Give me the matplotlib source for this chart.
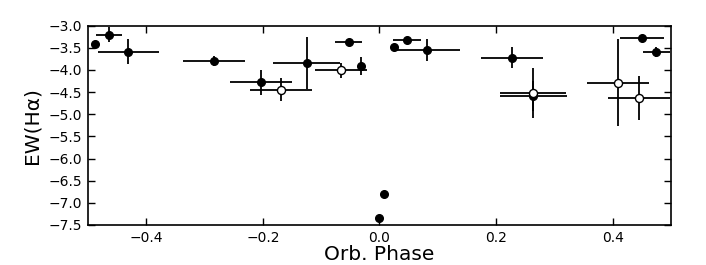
import matplotlib

matplotlib.use("Agg", force=True)
import matplotlib.pyplot as plt
import numpy as np

# filled symbols
phase_f = [-0.488, -0.4635, -0.4305, -0.2834, -0.2038, -0.1249, -0.0528, -0.0312,
           0.0257, 0.0472, 0.0815, 0.2268, 0.2640, 0.4508, 0.4748, 0.0, 0.0077]
ew_f = [-3.41, -3.20, -3.59, -3.80, -4.28, -3.85, -3.36, -3.91,
        -3.49, -3.33, -3.54, -3.72, -4.59, -3.28, -3.59, -7.34, -6.80]
xerr_f = [0.0, 0.0225, 0.052, 0.053, 0.053, 0.058, 0.023, 0.0,
          0.0, 0.0235, 0.057, 0.053, 0.057, 0.038, 0.023, 0.0, 0.0]
yerr_f = [0.0, 0.17, 0.28, 0.11, 0.29, 0.59, 0.0, 0.21,
          0.0, 0.0, 0.25, 0.24, 0.34, 0.07, 0.12, 0.0, 0.0]

# open symbols
phase_o = [-0.169, -0.0657, 0.2633, 0.4086, 0.4446]
ew_o = [-4.45, -4.01, -4.52, -4.29, -4.63]
xerr_o = [0.053, 0.045, 0.057, 0.0535, 0.053]
yerr_o = [0.26, 0.17, 0.56, 0.98, 0.49]

x_ticks = [-0.4, -0.2, 0.0, 0.2, 0.4]
y_ticks = [-3.0, -3.5, -4.0, -4.5, -5.0, -5.5, -6.0, -6.5, -7.0, -7.5]

plt.rcParams["font.family"] = "DejaVu Sans"
plt.rcParams["xtick.direction"] = "in"
plt.rcParams["ytick.direction"] = "in"
plt.rcParams["xtick.top"] = True
plt.rcParams["ytick.right"] = True

fig = plt.figure(figsize=(7.06, 2.65), dpi=100)
ax = fig.add_axes([0.1246, 0.151, 0.8258, 0.752])

ax.errorbar(phase_f, ew_f, xerr=xerr_f, yerr=yerr_f, fmt="o", color="k",
            ms=5.5, mfc="k", mec="k", elinewidth=1.3, capsize=0, zorder=2)
ax.errorbar(phase_o, ew_o, xerr=xerr_o, yerr=yerr_o, fmt="o", color="k",
            ms=5.8, mfc="white", mec="k", mew=1.0, elinewidth=1.3, capsize=0, zorder=3)

ax.set_xlim(-0.5, 0.5)
ax.set_ylim(-7.5, -3.0)
ax.set_xticks(x_ticks)
ax.set_yticks(y_ticks)
ax.set_xticklabels([f"{v:.1f}".replace("-", "\u2212") for v in x_ticks])
ax.set_yticklabels([f"{v:.1f}".replace("-", "\u2212") for v in y_ticks])
ax.tick_params(labelsize=10, length=5, width=1, pad=4)
for s in ax.spines.values():
    s.set_linewidth(1.2)

ax.set_xlabel("Orb. Phase", fontsize=14.5, labelpad=0.5)
ax.set_ylabel("EW(H\u03b1)", fontsize=14.5, labelpad=5)

fig.savefig("out.png", dpi=100)
plt.close(fig)
